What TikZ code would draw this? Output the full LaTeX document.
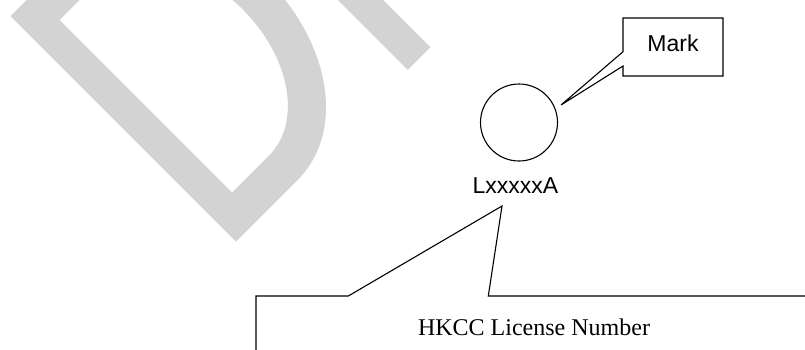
\documentclass[tikz,border=0pt]{standalone}
\usepackage{xcolor}
\usepackage{tikz}
\usepackage{fontspec}
\usetikzlibrary{positioning,calc}
\newfontfamily\labelfont{Liberation Sans}
\newfontfamily\notefont{Liberation Serif}
\definecolor{draftgray}{HTML}{D3D3D3}
\definecolor{inkblack}{HTML}{000000}
\tikzstyle{callbox} = [inner sep=0pt, outer sep=0pt]
\tikzstyle{callline} = [line width=1.1pt, draw=inkblack, line join=miter]
\tikzstyle{labeltext} = [font=\labelfont\fontsize{23}{27}\selectfont]

\begin{document}
\begin{tikzpicture}[y=-1pt, x=1pt]
\useasboundingbox (0,0) rectangle (805,349);
\clip (0,0) rectangle (805,349);

\begin{scope}[shift={(236,241.7)}, x=1pt, y=1pt, rotate=45]
\fill[draftgray, even odd rule]
  (0,0) -- (86,0) .. controls (160,0) and (207,80) .. (207,160)
  .. controls (207,240) and (160,319) .. (86,319) -- (0,319) -- cycle
  (32,37.5) -- (84,37.5) .. controls (130,37.5) and (169,90) .. (169,160)
  .. controls (169,230) and (130,281.5) .. (84,281.5) -- (32,281.5) -- cycle;
\fill[draftgray] (243,0) rectangle (275,319);
\end{scope}

\node[circle, draw=inkblack, line width=1.1pt, minimum size=77pt, inner sep=0pt] (seal) at (519,122.5) {};
\node[labeltext, anchor=base, inner sep=0pt] (licno) at (515.5,193.3) {LxxxxxA};
\coordinate (markTip) at (561,105);
\coordinate (hkccTip) at (502,206);

\node[callbox, labeltext, minimum width=100pt, minimum height=58pt, text height=16.5pt, text depth=7pt] (markbox) at (673,47) {Mark};
\node[callbox, font=\notefont\fontsize{24}{29}\selectfont, minimum width=556pt, minimum height=61.6pt] (hkccbox) at (534,326.8) {HKCC License Number};

\draw[callline] (markbox.north west) -- (markbox.north east) -- (markbox.south east) -- (markbox.south west)
  -- ([yshift=-19pt]markbox.west) -- (markTip) -- ([yshift=-4.7pt]markbox.west) -- cycle;
\draw[callline] (hkccbox.south west) -- (hkccbox.north west) -- ([xshift=92.3pt]hkccbox.north west)
  -- (hkccTip) -- ([xshift=232.3pt]hkccbox.north west) -- (hkccbox.north east) -- (hkccbox.south east);
\end{tikzpicture}
\end{document}
